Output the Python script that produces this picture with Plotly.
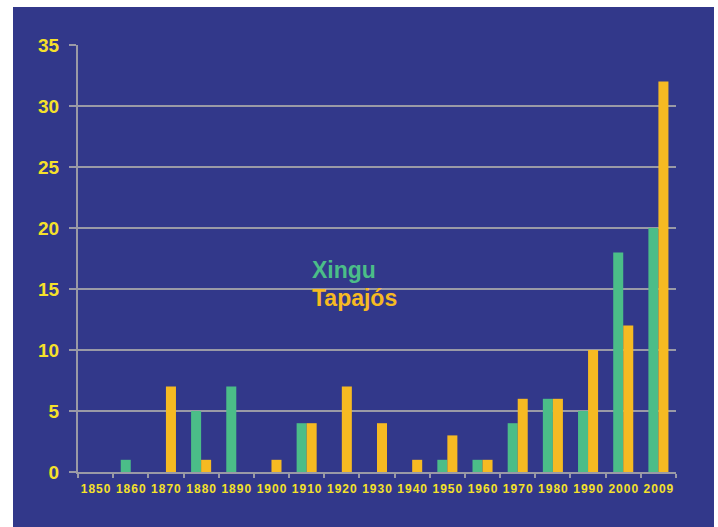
import plotly.graph_objects as go

decades = ["1850", "1860", "1870", "1880", "1890", "1900", "1910", "1920", "1930",
           "1940", "1950", "1960", "1970", "1980", "1990", "2000", "2009"]
xingu = [0, 1, 0, 5, 7, 0, 4, 0, 0, 0, 1, 1, 4, 6, 5, 18, 20]
tapajos = [0, 0, 7, 1, 0, 1, 4, 7, 4, 1, 3, 1, 6, 6, 10, 12, 32]

BG = "#32388A"
GREEN = "#4BBD88"
GOLD = "#F6BA22"
YEL = "#F5E12A"
GRID = "#9A9AA6"

fig = go.Figure()
fig.add_trace(go.Bar(x=decades, y=xingu, name="Xingu", marker=dict(color=GREEN, line=dict(width=0))))
fig.add_trace(go.Bar(x=decades, y=tapajos, name="Tapajós",
                     marker=dict(color=GOLD, line=dict(width=0))))

W, H = 718, 527
l, r, t, b = 78, 42, 45, 55
pw, ph = W - l - r, H - t - b

def px(xp):
    return (xp - l) / pw

def py(yp):
    return (H - b - yp) / ph

fig.update_layout(
    width=W, height=H,
    margin=dict(l=l, r=r, t=t, b=b),
    paper_bgcolor=BG, plot_bgcolor="rgba(0,0,0,0)",
    barmode="group", bargap=0.43, bargroupgap=0,
    showlegend=False,
    font=dict(family="Liberation Sans, Arial", color=YEL),
    xaxis=dict(
        type="category", showgrid=False, showline=True, linecolor=GRID, linewidth=2,
        ticks="outside", tickson="boundaries", ticklen=4, tickcolor=GRID, tickwidth=2,
        tickvals=decades, ticktext=["\u200a".join(d) for d in decades],
        tickfont=dict(size=12, color=YEL, family="Liberation Sans, Arial", weight="bold"),
        tickangle=0, ticklabelstandoff=5,
    ),
    yaxis=dict(
        range=[0, 35], tickvals=[0, 5, 10, 15, 20, 25, 30, 35], showgrid=True,
        gridcolor=GRID, gridwidth=2, showline=True, linecolor=GRID, linewidth=2,
        ticks="outside", ticklen=7, tickcolor=GRID, tickwidth=2,
        tickfont=dict(size=19, color=YEL, family="Liberation Sans Narrow, Liberation Sans, Arial", weight="bold"),
        zeroline=False, ticklabelstandoff=6,
    ),
    shapes=[
        dict(type="rect", xref="paper", yref="paper", x0=px(0), x1=px(13), y0=py(H), y1=py(0),
             fillcolor="white", line=dict(width=0), layer="above"),
        dict(type="rect", xref="paper", yref="paper", x0=px(0), x1=px(W), y0=py(7), y1=py(0),
             fillcolor="white", line=dict(width=0), layer="above"),
        dict(type="rect", xref="paper", yref="paper", x0=px(714), x1=px(W), y0=py(H), y1=py(0),
             fillcolor="white", line=dict(width=0), layer="above"),
    ],
    annotations=[
        dict(text="<b>Xingu</b>", xref="paper", yref="paper", x=px(310), y=py(270),
             xanchor="left", yanchor="middle", showarrow=False,
             font=dict(size=23, color=GREEN, family="Liberation Sans, Arial")),
        dict(text="<b>Tapajós</b>", xref="paper", yref="paper", x=px(310), y=py(298),
             xanchor="left", yanchor="middle", showarrow=False,
             font=dict(size=23, color=GOLD, family="Liberation Sans, Arial")),
    ],
)

fig.write_html("out.html")
